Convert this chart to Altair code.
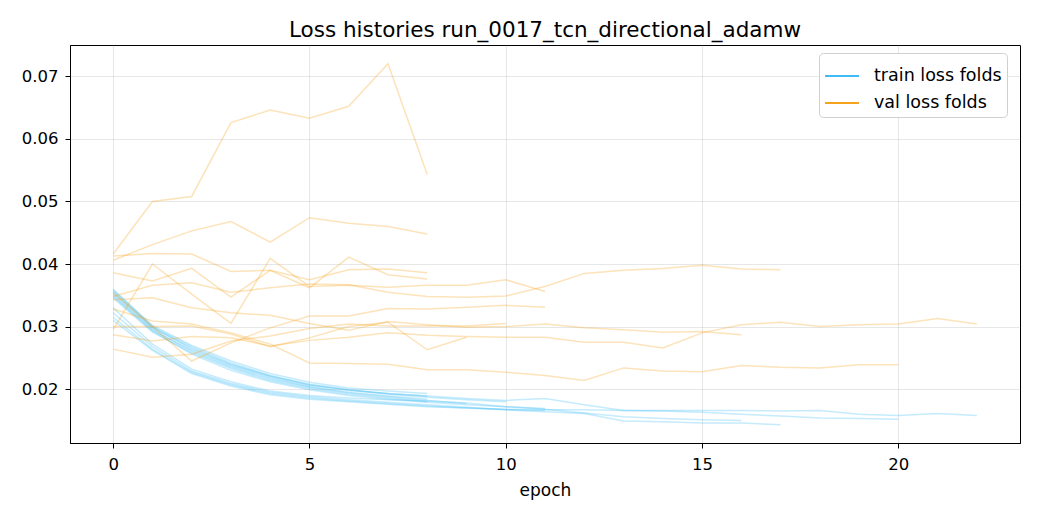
import altair as alt
import pandas as pd

# ---- data: per-fold loss histories ----
train_1 = [0.0358, 0.0302, 0.0270, 0.0245, 0.0225, 0.0211, 0.0202, 0.0197, 0.0193]
train_2 = [0.0355, 0.0298, 0.0266, 0.0240, 0.0221, 0.0207, 0.0199, 0.0193, 0.0189]
train_3 = [0.0350, 0.0294, 0.0262, 0.0237, 0.0218, 0.0204, 0.0195, 0.0189, 0.0184]
train_4 = [0.0346, 0.0291, 0.0258, 0.0233, 0.0214, 0.0201, 0.0192, 0.0186, 0.0180]
train_5 = [0.0352, 0.0296, 0.0260, 0.0235, 0.0216, 0.0203, 0.0194, 0.0188, 0.0182, 0.0177]
train_6 = [0.0360, 0.0300, 0.0268, 0.0242, 0.0222, 0.0208, 0.0199, 0.0192, 0.0187, 0.0183, 0.0180]
train_7 = [0.0322, 0.0268, 0.0229, 0.0209, 0.0195, 0.0188, 0.0183, 0.0179, 0.0175, 0.0171, 0.0167, 0.0166]
train_8 = [0.0330, 0.0272, 0.0232, 0.0212, 0.0197, 0.0190, 0.0186, 0.0183, 0.0181, 0.0178, 0.0172, 0.0169]
train_9 = [0.0348, 0.0293, 0.0256, 0.0230, 0.0212, 0.0199, 0.0190, 0.0184, 0.0179, 0.0175, 0.0172,
           0.0168, 0.0162, 0.0156, 0.0153, 0.0151, 0.0150]
train_10 = [0.0315, 0.0264, 0.0227, 0.0207, 0.0193, 0.0186, 0.0181, 0.0177, 0.0173, 0.0170, 0.0167,
            0.0164, 0.0161, 0.0149, 0.0148, 0.0146, 0.0146, 0.0143]
train_11 = [0.0310, 0.0262, 0.0225, 0.0205, 0.0191, 0.0184, 0.0180, 0.0176, 0.0172, 0.0170, 0.0168,
            0.0167, 0.0167, 0.0166, 0.0165, 0.0163, 0.0160, 0.0157, 0.0154, 0.0153, 0.0152]
train_12 = [0.0356, 0.0299, 0.0264, 0.0239, 0.0220, 0.0206, 0.0198, 0.0193, 0.0189, 0.0185, 0.0182,
            0.0185, 0.0175, 0.0166, 0.0166, 0.0166, 0.0166, 0.0165, 0.0166, 0.0160, 0.0158, 0.0161, 0.0158]

val_1 = [0.0416, 0.0500, 0.0508, 0.0626, 0.0646, 0.0633, 0.0652, 0.0720, 0.0543]
val_2 = [0.0406, 0.0431, 0.0453, 0.0468, 0.0435, 0.0474, 0.0465, 0.0460, 0.0448]
val_3 = [0.0413, 0.0417, 0.0416, 0.0388, 0.0390, 0.0375, 0.0391, 0.0392, 0.0386]
val_4 = [0.0386, 0.0373, 0.0393, 0.0347, 0.0390, 0.0362, 0.0411, 0.0383, 0.0376]
val_5 = [0.0300, 0.0300, 0.0301, 0.0288, 0.0268, 0.0282, 0.0300, 0.0307, 0.0263, 0.0283]
val_6 = [0.0264, 0.0251, 0.0256, 0.0277, 0.0285, 0.0297, 0.0304, 0.0301, 0.0301, 0.0301, 0.0305]
val_7 = [0.0295, 0.0400, 0.0352, 0.0305, 0.0409, 0.0364, 0.0366, 0.0363, 0.0366, 0.0366, 0.0375, 0.0356]
val_8 = [0.0354, 0.0300, 0.0245, 0.0274, 0.0298, 0.0317, 0.0317, 0.0329, 0.0328, 0.0331, 0.0334, 0.0331]
val_9 = [0.0343, 0.0346, 0.0330, 0.0322, 0.0318, 0.0305, 0.0294, 0.0308, 0.0303, 0.0299, 0.0300,
         0.0304, 0.0298, 0.0295, 0.0291, 0.0292, 0.0287]
val_10 = [0.0348, 0.0366, 0.0370, 0.0355, 0.0362, 0.0368, 0.0367, 0.0355, 0.0348, 0.0347, 0.0349,
          0.0364, 0.0385, 0.0390, 0.0393, 0.0398, 0.0392, 0.0391]
val_11 = [0.0328, 0.0309, 0.0304, 0.0290, 0.0272, 0.0242, 0.0241, 0.0240, 0.0231, 0.0231, 0.0227,
          0.0222, 0.0214, 0.0234, 0.0229, 0.0228, 0.0238, 0.0235, 0.0234, 0.0239, 0.0239]
val_12 = [0.0287, 0.0277, 0.0284, 0.0282, 0.0269, 0.0278, 0.0283, 0.0290, 0.0286, 0.0284, 0.0283,
          0.0283, 0.0275, 0.0275, 0.0266, 0.0290, 0.0303, 0.0307, 0.0300, 0.0303, 0.0304, 0.0313, 0.0304]

train_folds = [train_1, train_2, train_3, train_4, train_5, train_6,
               train_7, train_8, train_9, train_10, train_11, train_12]
val_folds = [val_1, val_2, val_3, val_4, val_5, val_6,
             val_7, val_8, val_9, val_10, val_11, val_12]

series_names = ["train loss folds", "val loss folds"]
series_colors = ["#3fbcf5", "#f5a21c"]
title_text = "Loss histories run_0017_tcn_directional_adamw"
x_ticks = [0, 5, 10, 15, 20]
y_ticks = [0.02, 0.03, 0.04, 0.05, 0.06, 0.07]

rows = []
order = 0
for name, folds in zip(series_names, [train_folds, val_folds]):
    for i, vals in enumerate(folds):
        for ep, v in enumerate(vals):
            rows.append({"series": name, "line": f"{name}-{i}", "epoch": ep,
                         "loss": v, "layer": order})
        order += 1
df = pd.DataFrame(rows)

FONT = "DejaVu Sans"

lines = alt.Chart(df).mark_line(strokeWidth=1.5, opacity=0.3).encode(
    x=alt.X("epoch:Q",
            scale=alt.Scale(domain=[-1.1, 23.1], nice=False, zero=False),
            axis=alt.Axis(values=x_ticks, title="epoch", format="d")),
    y=alt.Y("loss:Q",
            scale=alt.Scale(domain=[0.0114, 0.0750], nice=False, zero=False),
            axis=alt.Axis(values=y_ticks, title=None, format=".2f")),
    color=alt.Color("series:N",
                    scale=alt.Scale(domain=series_names, range=series_colors),
                    legend=alt.Legend(title=None, orient="none", legendX=749, legendY=8,
                                      symbolType="stroke", symbolSize=1150,
                                      symbolStrokeWidth=2, symbolOpacity=1,
                                      labelFontSize=17.5, labelFont=FONT, labelColor="#000",
                                      labelOffset=14, rowPadding=0,
                                      padding=5, fillColor="white",
                                      strokeColor="#d0d0d0", cornerRadius=4)),
    detail="line:N",
    order=alt.Order("layer:Q"),
)

chart = lines.properties(
    width=950, height=398,
    title=alt.TitleParams(title_text, font=FONT, fontSize=21.5, fontWeight="normal",
                          color="#000", offset=4),
    autosize=alt.AutoSizeParams(type="none"),
    padding={"left": 62, "top": 37, "right": 12, "bottom": 69},
).configure_view(
    stroke="#000", strokeWidth=1
).configure_axis(
    labelFont=FONT, titleFont=FONT, labelFontSize=16.5, titleFontSize=17,
    titleFontWeight="normal", labelColor="#000", titleColor="#000",
    domainColor="#000", tickColor="#000", tickSize=5, tickWidth=1,
    grid=True, gridColor="#b0b0b0", gridOpacity=0.3, gridWidth=1,
).configure_axisX(
    labelPadding=8, titlePadding=10
).configure_axisY(
    labelPadding=7
)

chart.save("out.html", embed_options={"renderer": "svg", "actions": False})
